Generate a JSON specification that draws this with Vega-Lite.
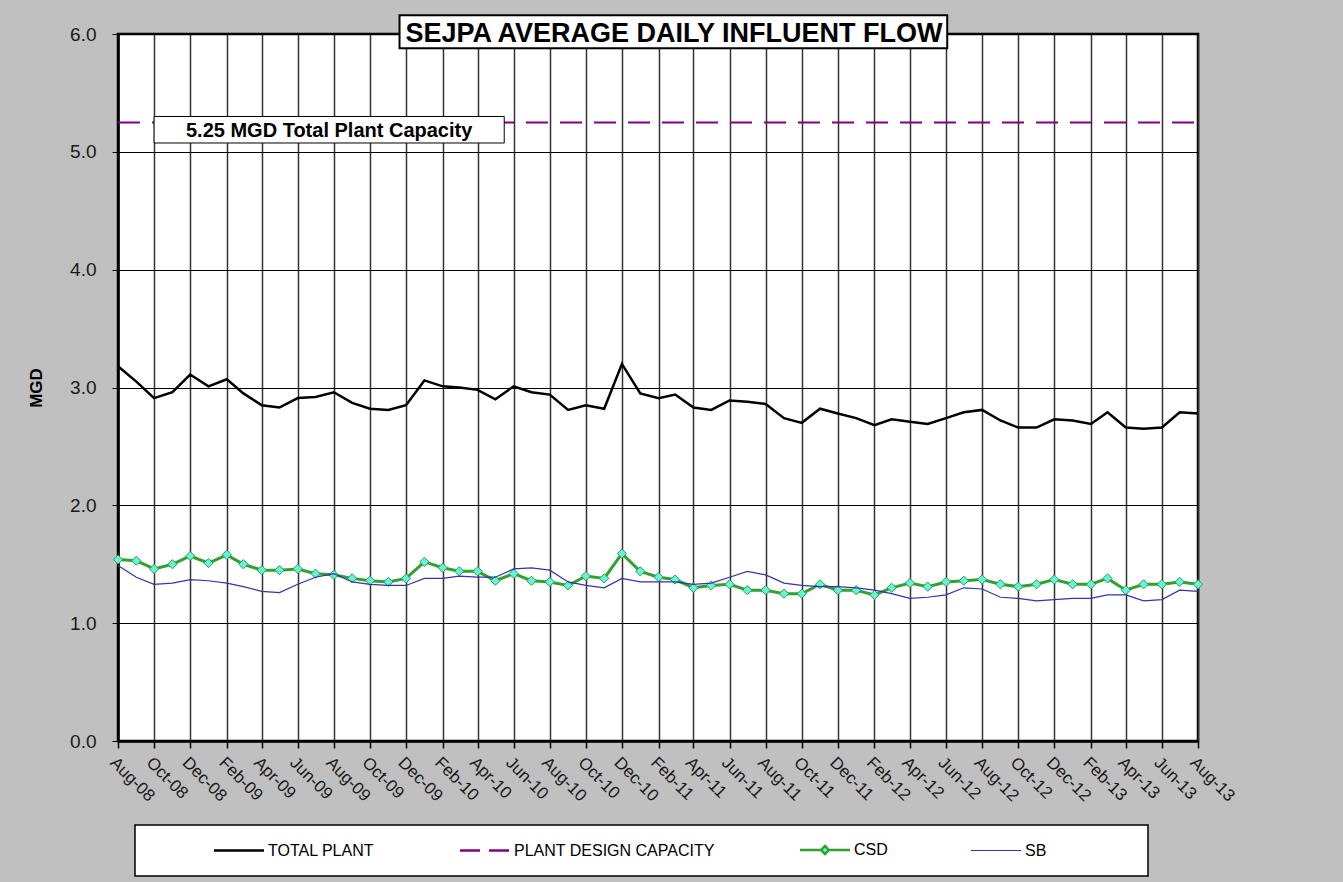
{
  "$schema": "https://vega.github.io/schema/vega-lite/v6.json",
  "width": 1080,
  "height": 707,
  "autosize": "none",
  "padding": {"left": 118, "top": 34, "right": 145, "bottom": 141},
  "background": "#c0c0c0",
  "config": {
    "font": "Liberation Sans",
    "view": {"fill": "white", "stroke": "black", "strokeWidth": 2.5}
  },
  "datasets": {
    "flow": [
      {"date": "2008-08-01", "total": 3.18, "cap": 5.25, "csd": 1.54, "sb": 1.49},
      {"date": "2008-09-01", "total": 3.05, "cap": 5.25, "csd": 1.53, "sb": 1.39},
      {"date": "2008-10-01", "total": 2.91, "cap": 5.25, "csd": 1.46, "sb": 1.33},
      {"date": "2008-11-01", "total": 2.96, "cap": 5.25, "csd": 1.50, "sb": 1.34},
      {"date": "2008-12-01", "total": 3.11, "cap": 5.25, "csd": 1.57, "sb": 1.37},
      {"date": "2009-01-01", "total": 3.01, "cap": 5.25, "csd": 1.51, "sb": 1.36},
      {"date": "2009-02-01", "total": 3.07, "cap": 5.25, "csd": 1.58, "sb": 1.34},
      {"date": "2009-03-01", "total": 2.95, "cap": 5.25, "csd": 1.50, "sb": 1.31},
      {"date": "2009-04-01", "total": 2.85, "cap": 5.25, "csd": 1.45, "sb": 1.27},
      {"date": "2009-05-01", "total": 2.83, "cap": 5.25, "csd": 1.45, "sb": 1.26},
      {"date": "2009-06-01", "total": 2.91, "cap": 5.25, "csd": 1.46, "sb": 1.33},
      {"date": "2009-07-01", "total": 2.92, "cap": 5.25, "csd": 1.42, "sb": 1.39},
      {"date": "2009-08-01", "total": 2.96, "cap": 5.25, "csd": 1.41, "sb": 1.42},
      {"date": "2009-09-01", "total": 2.87, "cap": 5.25, "csd": 1.38, "sb": 1.35},
      {"date": "2009-10-01", "total": 2.82, "cap": 5.25, "csd": 1.36, "sb": 1.33},
      {"date": "2009-11-01", "total": 2.81, "cap": 5.25, "csd": 1.35, "sb": 1.32},
      {"date": "2009-12-01", "total": 2.85, "cap": 5.25, "csd": 1.38, "sb": 1.32},
      {"date": "2010-01-01", "total": 3.06, "cap": 5.25, "csd": 1.52, "sb": 1.38},
      {"date": "2010-02-01", "total": 3.01, "cap": 5.25, "csd": 1.47, "sb": 1.38},
      {"date": "2010-03-01", "total": 3.00, "cap": 5.25, "csd": 1.44, "sb": 1.40},
      {"date": "2010-04-01", "total": 2.98, "cap": 5.25, "csd": 1.44, "sb": 1.39},
      {"date": "2010-05-01", "total": 2.90, "cap": 5.25, "csd": 1.36, "sb": 1.39},
      {"date": "2010-06-01", "total": 3.01, "cap": 5.25, "csd": 1.42, "sb": 1.46},
      {"date": "2010-07-01", "total": 2.96, "cap": 5.25, "csd": 1.36, "sb": 1.47},
      {"date": "2010-08-01", "total": 2.94, "cap": 5.25, "csd": 1.35, "sb": 1.45},
      {"date": "2010-09-01", "total": 2.81, "cap": 5.25, "csd": 1.32, "sb": 1.35},
      {"date": "2010-10-01", "total": 2.85, "cap": 5.25, "csd": 1.40, "sb": 1.32},
      {"date": "2010-11-01", "total": 2.82, "cap": 5.25, "csd": 1.38, "sb": 1.30},
      {"date": "2010-12-01", "total": 3.20, "cap": 5.25, "csd": 1.59, "sb": 1.38},
      {"date": "2011-01-01", "total": 2.95, "cap": 5.25, "csd": 1.44, "sb": 1.35},
      {"date": "2011-02-01", "total": 2.91, "cap": 5.25, "csd": 1.39, "sb": 1.35},
      {"date": "2011-03-01", "total": 2.94, "cap": 5.25, "csd": 1.37, "sb": 1.35},
      {"date": "2011-04-01", "total": 2.83, "cap": 5.25, "csd": 1.30, "sb": 1.33},
      {"date": "2011-05-01", "total": 2.81, "cap": 5.25, "csd": 1.32, "sb": 1.34},
      {"date": "2011-06-01", "total": 2.89, "cap": 5.25, "csd": 1.33, "sb": 1.39},
      {"date": "2011-07-01", "total": 2.88, "cap": 5.25, "csd": 1.28, "sb": 1.44},
      {"date": "2011-08-01", "total": 2.86, "cap": 5.25, "csd": 1.28, "sb": 1.41},
      {"date": "2011-09-01", "total": 2.74, "cap": 5.25, "csd": 1.25, "sb": 1.34},
      {"date": "2011-10-01", "total": 2.70, "cap": 5.25, "csd": 1.25, "sb": 1.32},
      {"date": "2011-11-01", "total": 2.82, "cap": 5.25, "csd": 1.33, "sb": 1.31},
      {"date": "2011-12-01", "total": 2.78, "cap": 5.25, "csd": 1.28, "sb": 1.31},
      {"date": "2012-01-01", "total": 2.74, "cap": 5.25, "csd": 1.28, "sb": 1.30},
      {"date": "2012-02-01", "total": 2.68, "cap": 5.25, "csd": 1.24, "sb": 1.28},
      {"date": "2012-03-01", "total": 2.73, "cap": 5.25, "csd": 1.30, "sb": 1.25},
      {"date": "2012-04-01", "total": 2.71, "cap": 5.25, "csd": 1.34, "sb": 1.21},
      {"date": "2012-05-01", "total": 2.69, "cap": 5.25, "csd": 1.31, "sb": 1.22},
      {"date": "2012-06-01", "total": 2.74, "cap": 5.25, "csd": 1.35, "sb": 1.24},
      {"date": "2012-07-01", "total": 2.79, "cap": 5.25, "csd": 1.36, "sb": 1.30},
      {"date": "2012-08-01", "total": 2.81, "cap": 5.25, "csd": 1.37, "sb": 1.29},
      {"date": "2012-09-01", "total": 2.72, "cap": 5.25, "csd": 1.33, "sb": 1.22},
      {"date": "2012-10-01", "total": 2.66, "cap": 5.25, "csd": 1.31, "sb": 1.21},
      {"date": "2012-11-01", "total": 2.66, "cap": 5.25, "csd": 1.33, "sb": 1.19},
      {"date": "2012-12-01", "total": 2.73, "cap": 5.25, "csd": 1.37, "sb": 1.20},
      {"date": "2013-01-01", "total": 2.72, "cap": 5.25, "csd": 1.33, "sb": 1.21},
      {"date": "2013-02-01", "total": 2.69, "cap": 5.25, "csd": 1.33, "sb": 1.21},
      {"date": "2013-03-01", "total": 2.79, "cap": 5.25, "csd": 1.38, "sb": 1.24},
      {"date": "2013-04-01", "total": 2.66, "cap": 5.25, "csd": 1.28, "sb": 1.24},
      {"date": "2013-05-01", "total": 2.65, "cap": 5.25, "csd": 1.33, "sb": 1.19},
      {"date": "2013-06-01", "total": 2.66, "cap": 5.25, "csd": 1.33, "sb": 1.20},
      {"date": "2013-07-01", "total": 2.79, "cap": 5.25, "csd": 1.35, "sb": 1.28},
      {"date": "2013-08-01", "total": 2.78, "cap": 5.25, "csd": 1.33, "sb": 1.27}
    ]
  },
  "layer": [
    {
      "data": {"name": "flow"},
      "mark": {"type": "line", "strokeWidth": 2.5},
      "encoding": {
        "x": {
          "field": "date", "type": "temporal", "title": null,
          "scale": {"type": "utc", "nice": false, "domain": [{"year": 2008, "month": 8, "date": 1, "utc": true}, {"year": 2013, "month": 8, "date": 1, "utc": true}]},
          "axis": {
            "values": [
              {"year": 2008, "month": 8, "date": 1, "utc": true}, {"year": 2008, "month": 10, "date": 1, "utc": true}, {"year": 2008, "month": 12, "date": 1, "utc": true},
              {"year": 2009, "month": 2, "date": 1, "utc": true}, {"year": 2009, "month": 4, "date": 1, "utc": true}, {"year": 2009, "month": 6, "date": 1, "utc": true},
              {"year": 2009, "month": 8, "date": 1, "utc": true}, {"year": 2009, "month": 10, "date": 1, "utc": true}, {"year": 2009, "month": 12, "date": 1, "utc": true},
              {"year": 2010, "month": 2, "date": 1, "utc": true}, {"year": 2010, "month": 4, "date": 1, "utc": true}, {"year": 2010, "month": 6, "date": 1, "utc": true},
              {"year": 2010, "month": 8, "date": 1, "utc": true}, {"year": 2010, "month": 10, "date": 1, "utc": true}, {"year": 2010, "month": 12, "date": 1, "utc": true},
              {"year": 2011, "month": 2, "date": 1, "utc": true}, {"year": 2011, "month": 4, "date": 1, "utc": true}, {"year": 2011, "month": 6, "date": 1, "utc": true},
              {"year": 2011, "month": 8, "date": 1, "utc": true}, {"year": 2011, "month": 10, "date": 1, "utc": true}, {"year": 2011, "month": 12, "date": 1, "utc": true},
              {"year": 2012, "month": 2, "date": 1, "utc": true}, {"year": 2012, "month": 4, "date": 1, "utc": true}, {"year": 2012, "month": 6, "date": 1, "utc": true},
              {"year": 2012, "month": 8, "date": 1, "utc": true}, {"year": 2012, "month": 10, "date": 1, "utc": true}, {"year": 2012, "month": 12, "date": 1, "utc": true},
              {"year": 2013, "month": 2, "date": 1, "utc": true}, {"year": 2013, "month": 4, "date": 1, "utc": true}, {"year": 2013, "month": 6, "date": 1, "utc": true},
              {"year": 2013, "month": 8, "date": 1, "utc": true}
            ],
            "tickCount": 100,
            "format": "%b-%y",
            "labelAngle": 45, "labelAlign": "left", "labelBaseline": "top",
            "labelFontSize": 17, "labelColor": "#1a1a1a", "labelPadding": 6,
            "labelOverlap": false, "labelBound": false, "labelFlush": false,
            "tickSize": 7, "tickColor": "black", "tickWidth": 1.5,
            "domainColor": "black", "domainWidth": 2.5,
            "grid": true, "gridColor": "#333333", "gridWidth": 1.5
          }
        },
        "y": {
          "field": "total", "type": "quantitative", "title": "MGD",
          "scale": {"domain": [0, 6], "nice": false},
          "axis": {
            "values": [0, 1, 2, 3, 4, 5, 6], "format": ".1f", "title": "MGD",
            "titleFontSize": 17, "titleFontWeight": "bold", "titleColor": "black", "titlePadding": 24,
            "labelFontSize": 19, "labelColor": "#1a1a1a", "labelPadding": 16,
            "tickSize": 6, "tickColor": "black", "domainColor": "black", "domainWidth": 2.5,
            "grid": true, "gridColor": "black", "gridWidth": 1
          }
        },
        "color": {
          "datum": "TOTAL PLANT", "type": "nominal",
          "scale": {"domain": ["TOTAL PLANT", "PLANT DESIGN CAPACITY", "CSD", "SB"], "range": ["#000000", "#800080", "#33a033", "#3333aa"]},
          "legend": {
            "title": " ", "titleOrient": "left", "titlePadding": 79, "titleFontSize": 16,
            "orient": "none", "legendX": 17, "legendY": 791, "direction": "horizontal", "columns": 4,
            "fillColor": "white", "strokeColor": "black", "padding": 17,
            "columnPadding": 80, "symbolType": "stroke", "symbolSize": 100, "symbolStrokeWidth": 2.5,
            "labelFontSize": 16, "labelColor": "black", "labelOffset": 21, "labelLimit": 400,
            "labelExpr": "datum.label === 'SB' ? 'SB\u00a0\u00a0\u00a0\u00a0\u00a0\u00a0\u00a0\u00a0\u00a0\u00a0\u00a0\u00a0\u00a0\u00a0\u00a0\u00a0\u00a0\u00a0\u00a0\u200b' : datum.label",
            "encode": {
              "legend": {"update": {"strokeWidth": {"value": 1.5}}},
              "symbols": {
                "update": {
                  "strokeDash": {"signal": "datum.value === 'PLANT DESIGN CAPACITY' ? [20, 9] : [1, 0]"},
                  "strokeWidth": {"signal": "datum.value === 'SB' ? 1.2 : 2.5"},
                  "shape": {"signal": "datum.value === 'CSD' ? 'M-5,0L-0.8,0M0.8,0L5,0M0,-0.8L0.8,0L0,0.8L-0.8,0Z' : 'M-5,0L5,0'"},
                  "fill": {"signal": "datum.value === 'CSD' ? '#66f2e2' : 'transparent'"}
                }
              }
            }
          }
        }
      }
    },
    {
      "data": {"name": "flow"},
      "mark": {"type": "line", "strokeWidth": 2, "strokeDash": [22, 12]},
      "encoding": {
        "x": {"field": "date", "type": "temporal", "title": null},
        "y": {"field": "cap", "type": "quantitative", "title": "MGD"},
        "color": {"datum": "PLANT DESIGN CAPACITY", "type": "nominal"}
      }
    },
    {
      "data": {"name": "flow"},
      "mark": {"type": "line", "strokeWidth": 3},
      "encoding": {
        "x": {"field": "date", "type": "temporal", "title": null},
        "y": {"field": "csd", "type": "quantitative", "title": "MGD"},
        "color": {"datum": "CSD", "type": "nominal"}
      }
    },
    {
      "data": {"name": "flow"},
      "mark": {"type": "point", "shape": "diamond", "filled": true, "fill": "#66f2e2", "stroke": "#33a033", "strokeWidth": 1, "size": 85, "opacity": 1},
      "encoding": {
        "x": {"field": "date", "type": "temporal", "title": null},
        "y": {"field": "csd", "type": "quantitative", "title": "MGD"}
      }
    },
    {
      "data": {"name": "flow"},
      "mark": {"type": "line", "strokeWidth": 1.2},
      "encoding": {
        "x": {"field": "date", "type": "temporal", "title": null},
        "y": {"field": "sb", "type": "quantitative", "title": "MGD"},
        "color": {"datum": "SB", "type": "nominal"}
      }
    },
    {
      "data": {"values": [{"a": "2008-10-01", "b": "2010-05-16", "lo": 5.075, "hi": 5.30}]},
      "mark": {"type": "rect", "fill": "white", "stroke": "black", "strokeWidth": 1},
      "encoding": {
        "x": {"field": "a", "type": "temporal", "title": null},
        "x2": {"field": "b"},
        "y": {"field": "lo", "type": "quantitative", "title": "MGD"},
        "y2": {"field": "hi"}
      }
    },
    {
      "data": {"values": [{"d": "2009-07-24", "v": 5.13, "t": "5.25 MGD Total Plant Capacity"}]},
      "mark": {"type": "text", "fontSize": 20, "fontWeight": "bold", "align": "center", "baseline": "alphabetic", "color": "black"},
      "encoding": {
        "x": {"field": "d", "type": "temporal", "title": null},
        "y": {"field": "v", "type": "quantitative", "title": "MGD"},
        "text": {"field": "t"}
      }
    },
    {
      "data": {"values": [{"a": "2009-11-20", "b": "2012-06-03", "lo": 5.88, "hi": 6.16}]},
      "mark": {"type": "rect", "fill": "white", "stroke": "black", "strokeWidth": 2},
      "encoding": {
        "x": {"field": "a", "type": "temporal", "title": null},
        "x2": {"field": "b"},
        "y": {"field": "lo", "type": "quantitative", "title": "MGD"},
        "y2": {"field": "hi"}
      }
    },
    {
      "data": {"values": [{"d": "2011-02-27", "v": 5.93, "t": "SEJPA AVERAGE DAILY INFLUENT FLOW"}]},
      "mark": {"type": "text", "fontSize": 27, "fontWeight": "bold", "align": "center", "baseline": "alphabetic", "color": "black"},
      "encoding": {
        "x": {"field": "d", "type": "temporal", "title": null},
        "y": {"field": "v", "type": "quantitative", "title": "MGD"},
        "text": {"field": "t"}
      }
    }
  ]
}
